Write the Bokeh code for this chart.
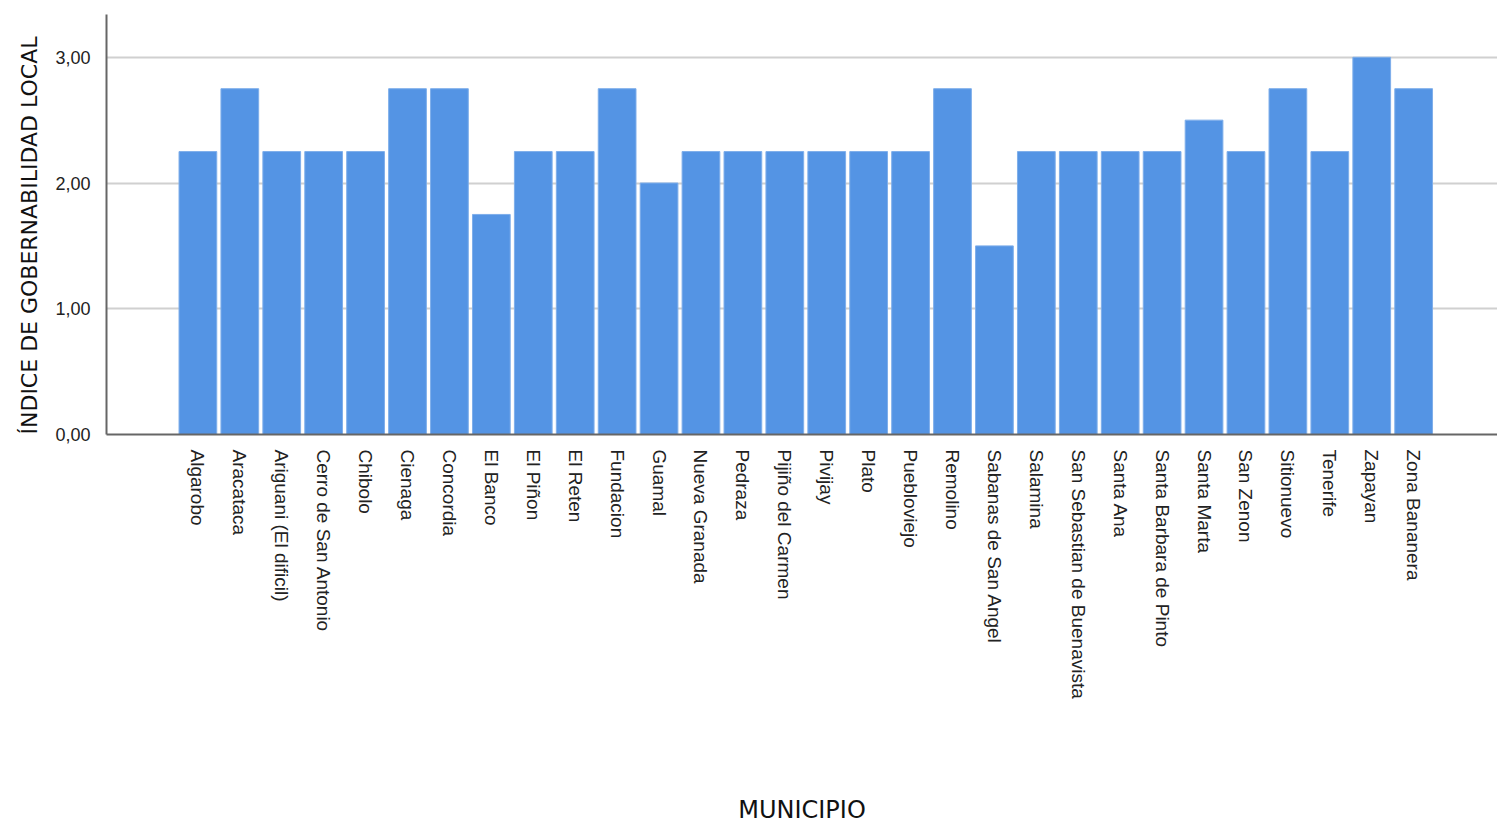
import math
from bokeh.plotting import figure
from bokeh.models import ColumnDataSource, FixedTicker, Title
from bokeh.embed import file_html
from bokeh.resources import INLINE

municipios = [
    "Algarobo", "Aracataca", "Ariguani (El dificil)", "Cerro de San Antonio",
    "Chibolo", "Cienaga", "Concordia", "El Banco", "El Piñon", "El Reten",
    "Fundacion", "Guamal", "Nueva Granada", "Pedraza", "Pijiño del Carmen",
    "Pivijay", "Plato", "Puebloviejo", "Remolino", "Sabanas de San Angel",
    "Salamina", "San Sebastian de Buenavista", "Santa Ana",
    "Santa Barbara de Pinto", "Santa Marta", "San Zenon", "Sitionuevo",
    "Tenerife", "Zapayan", "Zona Bananera",
]
indice = [
    2.25, 2.75, 2.25, 2.25, 2.25, 2.75, 2.75, 1.75, 2.25, 2.25,
    2.75, 2.00, 2.25, 2.25, 2.25, 2.25, 2.25, 2.25, 2.75, 1.50,
    2.25, 2.25, 2.25, 2.25, 2.50, 2.25, 2.75, 2.25, 3.00, 2.75,
]
y_ticks = [0, 1, 2, 3]
y_tick_labels = ["0,00", "1,00", "2,00", "3,00"]
x_title = "MUNICIPIO"
y_title = "ÍNDICE DE GOBERNABILIDAD LOCAL"

pos = list(range(len(municipios)))
src = ColumnDataSource(dict(x=pos, top=indice, name=municipios))

p = figure(
    width=1497, height=826,
    x_range=(-2.18, 31.0), y_range=(0, 3.34),
    output_backend="svg", toolbar_location=None,
    min_border_left=106, min_border_top=14, min_border_right=0,
    min_border_bottom=10,
)
p.outline_line_color = None
p.background_fill_color = "white"

p.vbar(x="x", top="top", width=0.9, bottom=0, source=src,
       fill_color="#5494e4", line_color="#7eaeea", line_width=1)

# x axis
xa = p.xaxis[0]
xa.ticker = FixedTicker(ticks=pos)
xa.major_label_overrides = {i: n for i, n in zip(pos, municipios)}
xa.major_label_orientation = -math.pi / 2
xa.major_label_text_font = "Liberation Sans"
xa.major_label_text_font_size = "19px"
xa.major_label_text_color = "#222222"
xa.major_label_standoff = 9
xa.major_tick_line_color = None
xa.minor_tick_line_color = None
xa.axis_line_color = "#666666"
xa.axis_line_width = 2
xa.axis_label = x_title
xa.axis_label_text_font = "DejaVu Sans"
xa.axis_label_text_font_style = "normal"
xa.axis_label_text_font_size = "24px"
xa.axis_label_text_color = "#111111"
xa.axis_label_standoff = 94

# y axis
ya = p.yaxis[0]
ya.ticker = FixedTicker(ticks=y_ticks)
ya.major_label_overrides = {tk: l for tk, l in zip(y_ticks, y_tick_labels)}
ya.major_label_text_font = "Liberation Sans"
ya.major_label_text_font_size = "18px"
ya.major_label_text_color = "#222222"
ya.major_label_standoff = 10
ya.major_tick_line_color = None
ya.minor_tick_line_color = None
ya.axis_line_color = "#666666"
ya.axis_line_width = 2

p.xgrid.grid_line_color = None
p.ygrid.grid_line_color = "#d0d0d0"
p.ygrid.grid_line_width = 2

# vertical axis title, anchored at the bottom of the plot area
p.add_layout(Title(
    text=y_title, align="left", standoff=22,
    text_font="DejaVu Sans", text_font_size="22px",
    text_font_style="normal", text_color="#111111",
), "left")

open("out.html", "w").write(file_html(p, INLINE))
